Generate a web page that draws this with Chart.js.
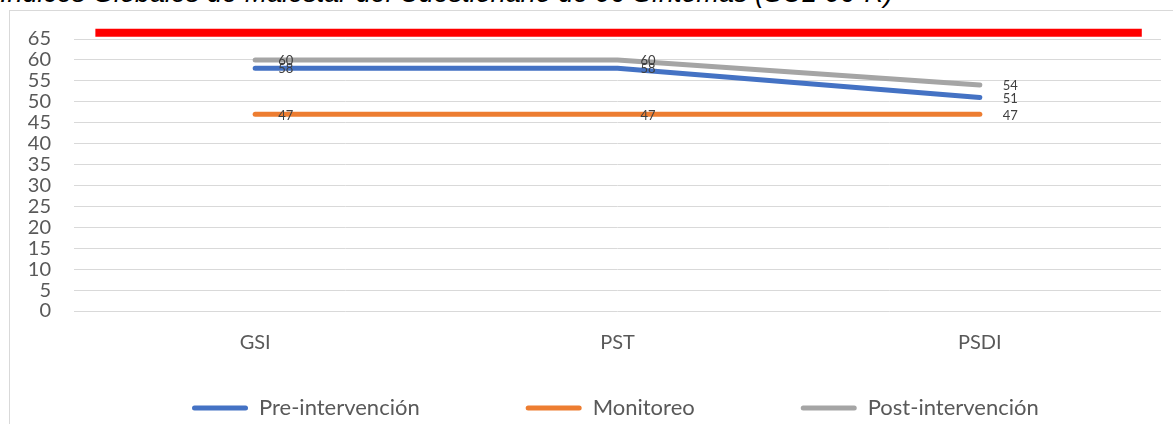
<!DOCTYPE html>
<html><head><meta charset="utf-8">
<script src="https://cdn.jsdelivr.net/npm/chart.js@4"></script>
<style>
html,body{margin:0;padding:0;background:#fff;overflow:hidden;}
#wrap{position:relative;width:1173px;height:424px;overflow:hidden;}
#frame{position:absolute;left:9px;top:10px;width:1300px;height:600px;border:1px solid #d9d9d9;}
#title{position:absolute;left:0;top:-20px;font:italic 27px "Liberation Sans",Arial,sans-serif;color:#000;white-space:nowrap;line-height:27px;}
canvas{position:absolute;left:0;top:0;}
</style></head><body>
<div id="wrap"><div id="frame"></div><div id="title">Índices Globales de Malestar del Cuestionario de 90 Síntomas (SCL-90-R)</div><canvas id="c" width="1173" height="424"></canvas></div>
<script>
const categories = ['GSI', 'PST', 'PSDI'];
const seriesNames = ['Pre-intervención', 'Monitoreo', 'Post-intervención'];
const preIntervencion = [58, 58, 51];
const monitoreo = [47, 47, 47];
const postIntervencion = [60, 60, 54];
const seriesColors = ['#4472C4', '#ED7D31', '#A5A5A5'];
const yTicks = [0, 5, 10, 15, 20, 25, 30, 35, 40, 45, 50, 55, 60, 65];
const cutoffX = [-0.441, 2.447];
const cutoffY = [66.5, 66.5];

const toPts = arr => arr.map((v, i) => ({x: i, y: v}));
const seriesValues = [preIntervencion, monitoreo, postIntervencion];

const datasets = seriesValues.map((vals, i) => ({
  label: seriesNames[i],
  data: toPts(vals),
  borderColor: seriesColors[i],
  backgroundColor: seriesColors[i],
  borderWidth: 5,
  pointRadius: 0,
  borderCapStyle: 'round',
  borderJoinStyle: 'round',
  tension: 0,
  showValues: true,
  order: 3 - i
}));
datasets.push({
  label: 'cutoff',
  data: cutoffX.map((x, i) => ({x, y: cutoffY[i]})),
  borderColor: '#FF0000',
  backgroundColor: '#FF0000',
  borderWidth: 8,
  pointRadius: 0,
  borderCapStyle: 'butt',
  clip: false,
  showValues: false
});

const valueLabels = {
  id: 'valueLabels',
  afterDatasetsDraw(chart) {
    const ctx = chart.ctx;
    ctx.save();
    ctx.font = '13px Lato';
    ctx.fillStyle = '#404040';
    ctx.textAlign = 'left';
    ctx.textBaseline = 'middle';
    chart.data.datasets.forEach((ds, i) => {
      if (!ds.showValues) return;
      const meta = chart.getDatasetMeta(i);
      meta.data.forEach((pt, j) => {
        ctx.fillText(String(ds.data[j].y), pt.x + 23, pt.y + 1);
      });
    });
    ctx.restore();
  }
};

const LEG_PAD = 106;
const LEG_FONT = 22;
const legendPlace = {
  id: 'legendPlace',
  afterLayout(chart) {
    const lg = chart.legend;
    if (!lg) return;
    const w = lg.width;
    lg.left = 192 - LEG_PAD; lg.right = lg.left + w;
    lg.top = 408 - LEG_PAD - LEG_FONT / 2; lg.bottom = 424;
    lg.height = lg.bottom - lg.top;
  }
};

new Chart(document.getElementById('c'), {
  type: 'line',
  data: {datasets},
  options: {
    responsive: false,
    animation: false,
    layout: {padding: {top: 39, right: 12, left: 0, bottom: 0}},
    scales: {
      x: {
        type: 'linear',
        min: -0.5, max: categories.length - 0.5,
        afterBuildTicks: s => { s.ticks = categories.map((c, i) => ({value: i})); },
        afterFit: s => { s.height = 73; },
        grid: {display: false, drawTicks: false},
        border: {display: false},
        ticks: {
          autoSkip: false, maxRotation: 0, padding: 20,
          font: {family: 'Lato', size: 20}, color: '#595959',
          callback: v => categories[v] ?? ''
        }
      },
      y: {
        min: yTicks[0], max: yTicks[yTicks.length - 1],
        afterBuildTicks: s => { s.ticks = yTicks.map(v => ({value: v})); },
        afterFit: s => { s.width = 74; },
        grid: {color: '#d9d9d9', lineWidth: 1, drawTicks: false},
        border: {display: false},
        ticks: {autoSkip: false, padding: 23, font: {family: 'Lato', size: 20}, color: '#595959'}
      }
    },
    plugins: {
      tooltip: {enabled: false},
      legend: {
        position: 'bottom',
        align: 'start',
        maxHeight: 40,
        labels: {
          boxWidth: 56, boxHeight: 5, padding: LEG_PAD,
          useBorderRadius: true, borderRadius: 2.5,
          font: {family: 'Lato', size: LEG_FONT}, color: '#595959',
          generateLabels: chart => chart.data.datasets.slice(0, 3).map((ds, i) => ({
            text: ds.label, fillStyle: ds.borderColor, strokeStyle: ds.borderColor,
            lineWidth: 0, hidden: false, datasetIndex: i, borderRadius: 2.5, fontColor: '#595959'
          }))
        }
      }
    }
  },
  plugins: [valueLabels, legendPlace]
});
</script>
</body></html>
